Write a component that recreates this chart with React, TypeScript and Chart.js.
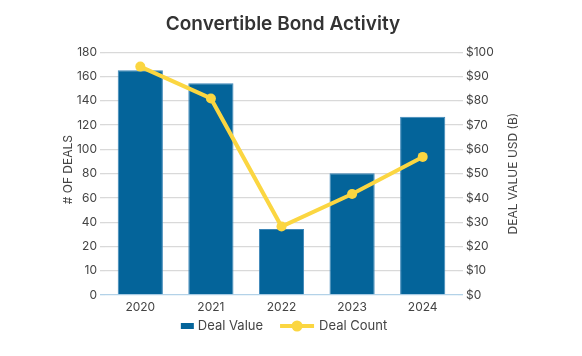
import React, { useEffect, useRef } from "react";
import { Chart, registerables } from "chart.js";

Chart.register(...registerables);

// Categories
const years = ["2020", "2021", "2022", "2023", "2024"];
// Deal Value, USD billions (right axis)
const dealValue = [92.6, 87.2, 27.2, 50.2, 73.4];
// Deal Count, as plotted against the left-axis gridlines (11 evenly spaced lines)
const dealCount = [94.1, 81.0, 28.2, 41.6, 56.9];
// Left axis tick labels exactly as printed on the chart
const leftTickLabels = ["0", "10", "20", "40", "60", "80", "100", "120", "140", "160", "180"];
const chartTitle = "Convertible Bond Activity";

const FONT = "Inter, 'Noto Sans', sans-serif";
const BAR_COLOR = "#04649a";
const LINE_COLOR = "#fbd641";
const TEXT_COLOR = "#444444";

const extrasPlugin = {
  id: "extras",
  afterDraw(chart: any) {
    const ctx = chart.ctx;
    const area = chart.chartArea;
    const midY = (area.top + area.bottom) / 2;
    ctx.save();
    // title
    ctx.fillStyle = "#333333";
    ctx.font = `600 19px ${FONT}`;
    ctx.textAlign = "center";
    ctx.textBaseline = "middle";
    ctx.fillText(chartTitle, 283, 24);

    ctx.fillStyle = TEXT_COLOR;
    ctx.font = `12px ${FONT}`;
    // left axis title
    ctx.save();
    ctx.translate(68, midY - 4);
    ctx.rotate(-Math.PI / 2);
    ctx.fillText("# OF DEALS", 0, 0);
    ctx.restore();
    // right axis title
    ctx.save();
    ctx.translate(513, midY);
    ctx.rotate(-Math.PI / 2);
    ctx.fillText("DEAL VALUE USD (B)", 0, 0);
    ctx.restore();

    // legend
    const ds = chart.data.datasets;
    ctx.font = `13px ${FONT}`;
    ctx.textAlign = "left";
    const t1 = ds[0].label;
    const t2 = ds[1].label;
    const w1 = ctx.measureText(t1).width;
    const w2 = ctx.measureText(t2).width;
    const total = 13 + 4 + w1 + 17 + 34 + 5 + w2;
    let x = 284 - total / 2;
    const ly = 326;
    ctx.fillStyle = BAR_COLOR;
    ctx.fillRect(x, ly - 3, 13, 6);
    x += 17;
    ctx.fillStyle = TEXT_COLOR;
    ctx.fillText(t1, x, ly);
    x += w1 + 17;
    ctx.strokeStyle = LINE_COLOR;
    ctx.lineWidth = 4;
    ctx.beginPath();
    ctx.moveTo(x, ly);
    ctx.lineTo(x + 34, ly);
    ctx.stroke();
    ctx.fillStyle = LINE_COLOR;
    ctx.beginPath();
    ctx.arc(x + 17, ly, 5.5, 0, Math.PI * 2);
    ctx.fill();
    x += 39;
    ctx.fillStyle = TEXT_COLOR;
    ctx.fillText(t2, x, ly);
    ctx.restore();
  },
};

export default function App() {
  const ref = useRef<HTMLCanvasElement>(null);
  useEffect(() => {
    if (!ref.current) return;
    const chart = new Chart(ref.current, {
      type: "bar",
      data: {
        labels: years,
        datasets: [
          {
            type: "bar",
            label: "Deal Value",
            data: dealValue,
            yAxisID: "y1",
            backgroundColor: BAR_COLOR,
            borderColor: "#3c86b8",
            borderWidth: 1,
            barPercentage: 0.64,
            categoryPercentage: 1,
            order: 1,
          },
          {
            type: "line",
            label: "Deal Count",
            data: dealCount,
            yAxisID: "y",
            borderColor: LINE_COLOR,
            backgroundColor: LINE_COLOR,
            borderWidth: 4,
            pointRadius: 5,
            pointBorderWidth: 0,
            pointBackgroundColor: LINE_COLOR,
            tension: 0,
            order: 0,
          } as any,
        ],
      },
      plugins: [extrasPlugin],
      options: {
        responsive: false,
        animation: false,
        layout: { padding: { left: 0, right: 0, top: 52.3, bottom: 38 } },
        plugins: {
          legend: { display: false },
          tooltip: { enabled: false },
          title: { display: false },
        },
        scales: {
          x: {
            grid: { display: false, drawTicks: false },
            border: { display: false },
            ticks: { color: TEXT_COLOR, font: { family: FONT, size: 12 }, padding: 5 },
            afterFit: (s: any) => {
              s.height = 23;
            },
          },
          y: {
            position: "left",
            min: 0,
            max: 100,
            ticks: {
              stepSize: 10,
              color: TEXT_COLOR,
              font: { family: FONT, size: 12 },
              padding: 3,
              callback: (_v: any, i: number) => leftTickLabels[i],
            },
            grid: {
              color: (c: any) => (c.index === 0 ? "#b3d2e8" : "#d9d9d9"),
              tickColor: (c: any) => (c.index === 0 ? "#b3d2e8" : "#d9d9d9"),
              tickLength: 5,
              lineWidth: 1.3,
            },
            border: { display: false },
            afterFit: (s: any) => {
              s.width = 105;
            },
          },
          y1: {
            position: "right",
            min: 0,
            max: 100,
            ticks: {
              stepSize: 10,
              color: TEXT_COLOR,
              font: { family: FONT, size: 12 },
              padding: 3,
              callback: (v: any) => "$" + v,
            },
            grid: {
              drawOnChartArea: false,
              color: (c: any) => (c.index === 0 ? "#b3d2e8" : "#d9d9d9"),
              tickColor: (c: any) => (c.index === 0 ? "#b3d2e8" : "#d9d9d9"),
              tickLength: 5,
              lineWidth: 1.3,
            },
            border: { display: false },
            afterFit: (s: any) => {
              s.width = 124;
            },
          },
        },
      },
    });
    return () => chart.destroy();
  }, []);
  return (
    <div style={{ position: "absolute", left: 0, top: 0, width: 582, height: 356, background: "#fff" }}>
      <canvas ref={ref} width={582} height={356} />
    </div>
  );
}
